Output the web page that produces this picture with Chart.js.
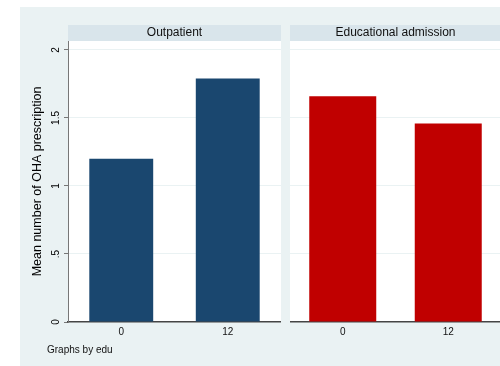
<!DOCTYPE html>
<html>
<head>
<meta charset="utf-8">
<script src="https://cdn.jsdelivr.net/npm/chart.js@4"></script>
<style>
  html, body { margin: 0; padding: 0; background: #ffffff; width: 500px; height: 366px; overflow: hidden; }
  #region { position: absolute; left: 20px; top: 7px; width: 480px; height: 359px; background: #EAF2F3; }
  canvas { position: absolute; top: 0; }
  #left { left: 0; }
  #right { left: 290px; }
</style>
</head>
<body>
<div id="region"></div>
<canvas id="left" width="281" height="366"></canvas>
<canvas id="right" width="211" height="366"></canvas>
<script>
// Mean number of OHA prescriptions by group, one panel per edu level
const categories = ['0', '12'];
const outpatient = [1.20, 1.79];
const educational = [1.66, 1.46];
const panelTitles = ['Outpatient', 'Educational admission'];
const yTickValues = [0, 0.5, 1, 1.5, 2];
const yTickLabels = ['0', '.5', '1', '1.5', '2'];
const yTitle = 'Mean number of OHA prescription';
const note = 'Graphs by edu';

const FONT = "'Liberation Sans', Arial, Helvetica, sans-serif";
Chart.defaults.font.family = FONT;
Chart.defaults.color = '#000';
Chart.defaults.animation = false;

const Y_MAX = 2.066;
const GRID = '#EAF2F3';

// White plot region plus the grey strip carrying the panel label
const panelDecor = {
  id: 'panelDecor',
  beforeDraw(chart, args, opts) {
    const { ctx, chartArea: a } = chart;
    ctx.save();
    ctx.fillStyle = '#ffffff';
    ctx.fillRect(a.left, a.top, a.right - a.left, a.bottom - a.top);
    ctx.fillStyle = '#D9E5EB';
    ctx.fillRect(a.left, 25, a.right - a.left, a.top - 25);
    ctx.fillStyle = '#111';
    ctx.font = '12px ' + FONT;
    ctx.textAlign = 'center';
    ctx.textBaseline = 'alphabetic';
    ctx.fillText(opts.title, (a.left + a.right) / 2, 36);
    ctx.restore();
  },
  afterDraw(chart, args, opts) {
    if (!opts.note) return;
    const ctx = chart.ctx;
    ctx.save();
    ctx.fillStyle = '#111';
    ctx.font = '10px ' + FONT;
    ctx.textAlign = 'left';
    ctx.textBaseline = 'middle';
    ctx.fillText(opts.note, 47, 350);
    ctx.restore();
  }
};

function fixTicks(scale) {
  scale.ticks = yTickValues.map(v => ({ value: v }));
}

function xAxis() {
  return {
    offset: true,
    afterFit: s => { s.height = 44; },
    grid: { display: false, drawTicks: false },
    border: { display: true, color: '#454545', width: 1.5 },
    ticks: { padding: 4, color: '#111', font: { size: 10 }, maxRotation: 0 }
  };
}

function makePanel(id, values, color, title, withAxis, barPct) {
  const yScale = withAxis ? {
    min: 0, max: Y_MAX,
    afterBuildTicks: fixTicks,
    afterFit: s => { s.width = 68; },
    grid: { color: GRID, lineWidth: 1, drawTicks: true, tickLength: 4, tickColor: '#777' },
    border: { display: true, color: '#777', width: 1 },
    ticks: {
      minRotation: 90, maxRotation: 90, crossAlign: 'center', padding: 1,
      color: '#000', font: { size: 10 },
      callback: v => yTickLabels[yTickValues.indexOf(v)]
    },
    title: { display: true, text: yTitle, color: '#000', font: { size: 12.5 }, padding: { top: 30, bottom: 0 } }
  } : {
    min: 0, max: Y_MAX,
    afterBuildTicks: fixTicks,
    afterFit: s => { s.width = 0; },
    grid: { color: GRID, lineWidth: 1, drawTicks: false },
    border: { display: false },
    ticks: { display: false }
  };

  return new Chart(document.getElementById(id), {
    type: 'bar',
    data: {
      labels: categories,
      datasets: [{
        data: values,
        backgroundColor: color,
        borderWidth: 0,
        barPercentage: barPct,
        categoryPercentage: 1
      }]
    },
    options: {
      responsive: false,
      devicePixelRatio: 1,
      layout: { padding: { top: 41, right: 0, bottom: 0, left: 0 } },
      plugins: {
        legend: { display: false },
        tooltip: { enabled: false },
        panelDecor: { title: title, note: withAxis ? note : null }
      },
      scales: { x: xAxis(), y: yScale }
    },
    plugins: [panelDecor]
  });
}

makePanel('left', outpatient, '#1A476F', panelTitles[0], true, 0.6);
makePanel('right', educational, '#C00000', panelTitles[1], false, 0.635);
</script>
</body>
</html>
